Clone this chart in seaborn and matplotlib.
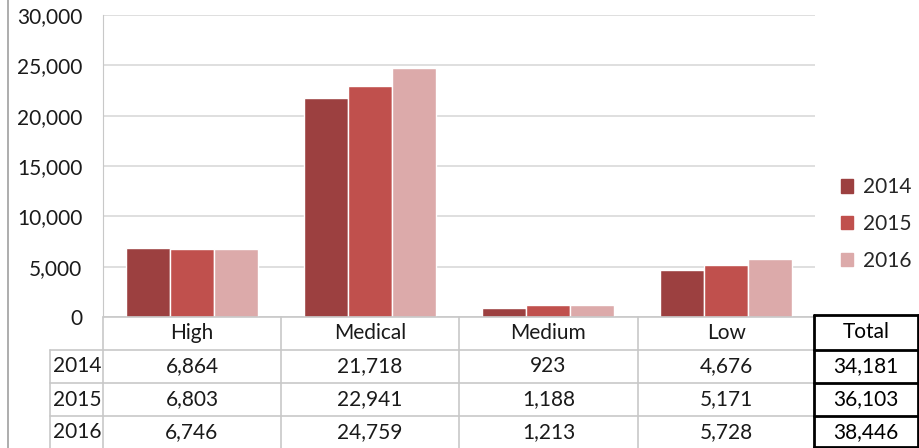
import matplotlib
matplotlib.use("Agg")
import matplotlib.pyplot as plt
import seaborn as sns
import pandas as pd
from matplotlib.lines import Line2D
from matplotlib.patches import Rectangle

# DATA ===========================================================================================================

categories = ["High", "Medical", "Medium", "Low"]
years = ["2014", "2015", "2016"]
values_2014 = [6864, 21718, 923, 4676]
values_2015 = [6803, 22941, 1188, 5171]
values_2016 = [6746, 24759, 1213, 5728]
totals = [34181, 36103, 38446]
palette = ["#9C4040", "#C0504D", "#DCAAAA"]

series = {"2014": values_2014, "2015": values_2015, "2016": values_2016}
rows = []
for year in years:
    for cat, val in zip(categories, series[year]):
        rows.append({"Category": cat, "Year": year, "Value": val})
data = pd.DataFrame(rows)

# PLOTTER ========================================================================================================

sns.set_style("white")
plt.rcParams["font.family"] = ["Lato", "DejaVu Sans"]
W, H = 920, 448
fig = plt.figure(figsize=(W / 100, H / 100), dpi=100)

# pixel helpers
def fx(x):
    return x / W

def fy(y):
    return 1 - y / H

grid_c = "#D9D9D9"
line_c = "#C8C8C8"
fs = 15
txt_c = "#1A1A1A"

ax = fig.add_axes([fx(103), fy(317), fx(815) - fx(103), fy(15) - fy(317)])
sns.barplot(data=data, x="Category", y="Value", hue="Year", palette=palette, width=0.74, saturation=1,
            edgecolor="white", linewidth=1, ax=ax, legend=False)
ax.set_ylim(0, 30000)
ax.set_xlim(-0.5, 3.5)
ax.set_yticks(range(0, 30001, 5000))
ax.set_yticklabels([f"{v:,}" for v in range(0, 30001, 5000)], fontsize=fs, color=txt_c)
ax.set_xticks([])
ax.set_xlabel("")
ax.set_ylabel("")
ax.yaxis.grid(True, color=grid_c, linewidth=1.2)
ax.set_axisbelow(True)
ax.tick_params(axis="y", length=7, color=grid_c, pad=8)
for side in ["top", "right", "bottom"]:
    ax.spines[side].set_visible(False)
ax.spines["left"].set_color(line_c)

# legend
handles = [Rectangle((0, 0), 1, 1, color=c) for c in palette]
fig.legend(handles, years, loc="center left", bbox_to_anchor=(fx(841), fy(224)), frameon=False,
           borderaxespad=0, borderpad=0, fontsize=fs, handlelength=0.6, handleheight=0.6,
           handletextpad=0.45, labelspacing=0.8)

# data table under the chart
def hline(x0, x1, y, c=line_c, lw=1.2):
    fig.add_artist(Line2D([fx(x0), fx(x1)], [fy(y), fy(y)], color=c, linewidth=lw))

def vline(x, y0, y1, c=line_c, lw=1.2):
    fig.add_artist(Line2D([fx(x), fx(x)], [fy(y0), fy(y1)], color=c, linewidth=lw))

col_edges = [103, 281, 459, 638, 815]
row_edges = [317, 350, 383, 416, 448]

hline(103, 815, 317)
for y in row_edges[1:4]:
    hline(50, 815, y)
vline(50, 350, 448)
vline(103, 317, 448)
for x in col_edges[1:4]:
    vline(x, 317, 448)
vline(8, 0, 448, c="#A0A0A0")

for i, cat in enumerate(categories):
    cx = (col_edges[i] + col_edges[i + 1]) / 2
    fig.text(fx(cx), fy(333), cat, ha="center", va="center", fontsize=fs, color=txt_c)
    for j, year in enumerate(years):
        cy = (row_edges[j + 1] + row_edges[j + 2]) / 2
        fig.text(fx(cx), fy(cy), f"{series[year][i]:,}", ha="center", va="center", fontsize=fs, color=txt_c)

for j, year in enumerate(years):
    cy = (row_edges[j + 1] + row_edges[j + 2]) / 2
    fig.text(fx(53), fy(cy), year, ha="left", va="center", fontsize=fs, color=txt_c)

# Total box
tx0, tx1 = 814, 918
for y in [315, 350, 383, 416, 447]:
    hline(tx0, tx1, y, c="black", lw=2)
vline(tx0, 315, 447, c="black", lw=2)
vline(tx1, 315, 447, c="black", lw=2)
fig.text(fx((tx0 + tx1) / 2), fy(332), "Total", ha="center", va="center", fontsize=fs, color="black")
for j, t in enumerate(totals):
    cy = (row_edges[j + 1] + row_edges[j + 2]) / 2
    fig.text(fx((tx0 + tx1) / 2), fy(cy), f"{t:,}", ha="center", va="center", fontsize=fs, color="black")

plt.savefig("out.png", dpi=100)
